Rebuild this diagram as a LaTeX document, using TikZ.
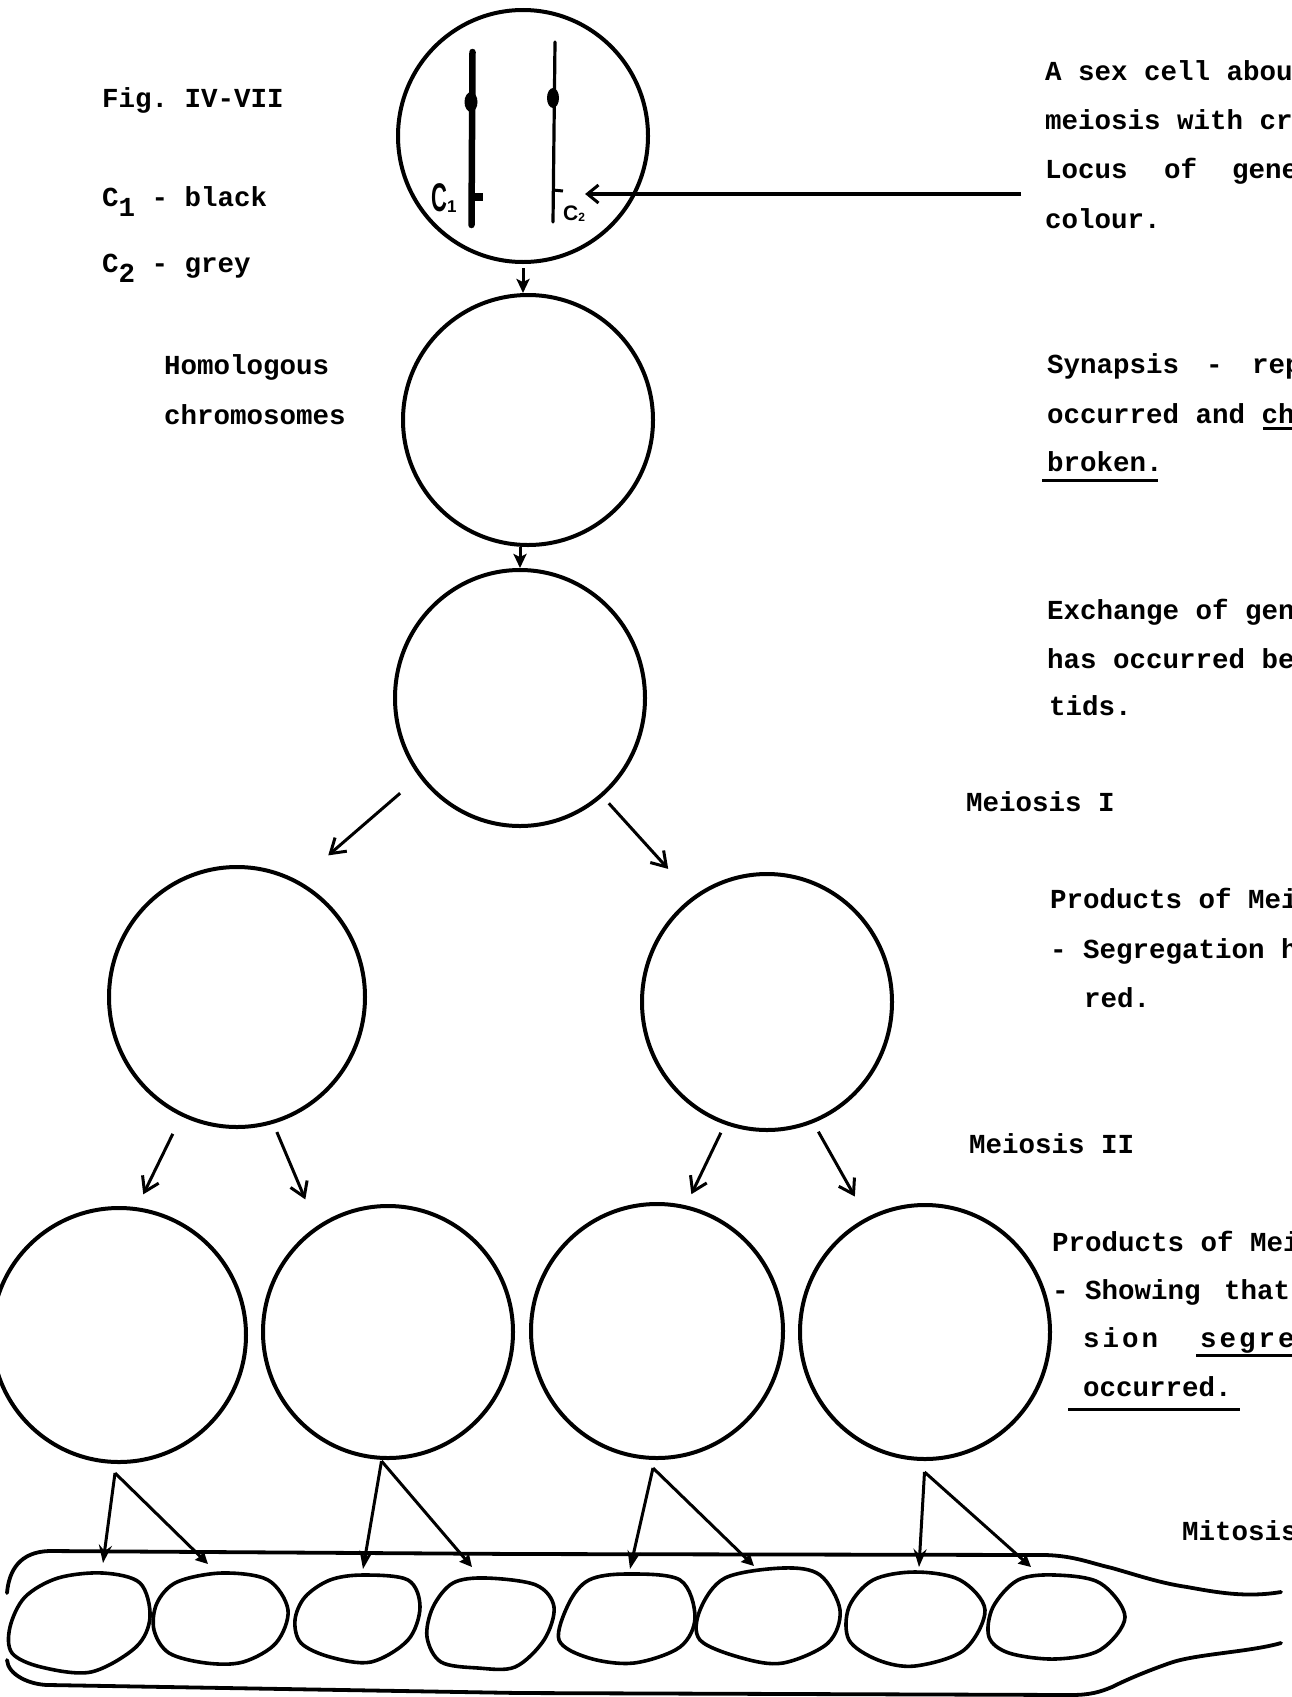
\documentclass[tikz,border=0pt]{standalone}
\usepackage{fontspec}
\setmainfont{Liberation Mono}[BoldFont=Liberation Mono Bold]
\newfontfamily\handfont{Liberation Sans}[BoldFont=Liberation Sans Bold]
\usetikzlibrary{arrows.meta,shapes.geometric}
\frenchspacing
\tikzset{
  x=1pt,y=-1pt,
  cellring/.style={draw,ellipse,line width=4pt,inner sep=0pt},
  link/.style={line width=3pt,-{Straight Barb[length=14pt,width=18pt,line width=3pt]}},
  small link/.style={line width=3pt,-{Stealth[length=14pt,width=13pt,inset=3pt]}},
  pointer/.style={line width=3.8pt,-{Straight Barb[length=11pt,width=18pt,line width=3pt]}},
  leg/.style={line width=3pt,-{Stealth[length=18pt,width=13pt,inset=6pt]}},
  foot/.style={line width=3pt,-{Stealth[length=12pt,width=12pt,inset=1pt]}},
  blob/.style={line width=3.6pt},
  wall/.style={line width=3.8pt,line cap=round},
  note/.style={anchor=base west,inner sep=0pt,font=\fontsize{27.5pt}{27.5pt}\selectfont\bfseries},
  rule/.style={line width=3pt},
}
\begin{document}
\begin{tikzpicture}
\useasboundingbox (0,0) rectangle (1292,1697);
\clip (0,0) rectangle (1292,1697);

% generation rings, top to bottom
\node[cellring,minimum width=250pt,minimum height=252pt] (c1) at (523,136) {};
\node[cellring,minimum width=250pt,minimum height=250pt] (c2) at (528,420) {};
\node[cellring,minimum width=250pt,minimum height=256pt] (c3) at (520,698) {};
\node[cellring,minimum width=256pt,minimum height=260pt] (c4) at (237,997) {};
\node[cellring,minimum width=250pt,minimum height=256pt] (c5) at (767,1002) {};
\node[cellring,minimum width=254pt,minimum height=254pt] (c6) at (119,1335) {};
\node[cellring,minimum width=250pt,minimum height=252pt] (c7) at (388,1332) {};
\node[cellring,minimum width=252pt,minimum height=254pt] (c8) at (657,1331) {};
\node[cellring,minimum width=250pt,minimum height=254pt] (c9) at (925,1332) {};

% chromosomes in the first ring
\draw[line width=6.5pt,line cap=round] (472.5,52) -- (471.5,225);
\draw[line width=3.2pt,line cap=round] (555,42) -- (553,222);
\fill (471,102) ellipse (6.5 and 10);
\fill (553,98) ellipse (6 and 10);
\fill (472,193) rectangle (483,201);
\draw[line width=3pt] (553,190) -- (563,191);
\node[inner sep=0pt,font=\handfont\bfseries] (lab1) at (444,198) {\scalebox{.55}[1]{\fontsize{40pt}{40pt}\selectfont C}\raisebox{-1pt}{\fontsize{17pt}{17pt}\selectfont 1}};
\node[inner sep=0pt,font=\handfont\bfseries\fontsize{21pt}{21pt}\selectfont] (lab2) at (574,214) {C\raisebox{-1pt}{\fontsize{12pt}{12pt}\selectfont 2}};

% connectors between generations
\draw[small link] (c1.south) ++(0,4) -- (c1.south |- c2.north);
\draw[small link] (c3.north |- c2.south) -- (c3.north);
\draw[link,shorten <=25pt,shorten >=39pt] (c3.218) -- (c4.62);
\draw[link,shorten <=9pt,shorten >=37pt] (c3.-50.9) -- (c5.125.6);
\draw[link,shorten <=19.5pt,shorten >=14.4pt] (c4.-115.5) -- (c6.82.4);
\draw[link,shorten <=9pt,shorten >=29pt] (c4.-74) -- (c7.124.2);
\draw[link,shorten <=9pt,shorten >=12.4pt] (c5.-109.8) -- (c8.77.8);
\draw[link,shorten <=10pt,shorten >=24pt] (c5.-69.3) -- (c9.117.2);

% pointer to the locus
\coordinate (locusnote) at (1021,194);
\draw[pointer] (locusnote) -- (lab2.north east |- locusnote);

% the tube of the ascus
\draw[wall] (7,1593) .. controls (9,1570) and (20,1552) .. (49,1551) -- (206,1552) -- (519,1554) -- (1046,1555)
  .. controls (1075,1556) and (1090,1563) .. (1112,1568) .. controls (1140,1576) and (1160,1583) .. (1187,1587)
  .. controls (1215,1592) and (1245,1598) .. (1281,1592);
\draw[wall] (7,1660) .. controls (8,1675) and (30,1685) .. (49,1685) -- (519,1693) -- (1071,1695)
  .. controls (1090,1695) and (1100,1692) .. (1112,1687) .. controls (1130,1678) and (1150,1670) .. (1170,1663)
  .. controls (1195,1654) and (1250,1652) .. (1281,1643);

% eight ascospores
\draw[blob] plot[smooth cycle,tension=.55] coordinates {(103,1573) (140,1583) (150,1617) (136,1647) (91,1672) (41,1667) (12,1653) (10,1627) (25,1597) (58,1578)};
\draw[blob] plot[smooth cycle,tension=.55] coordinates {(222,1573) (268,1580) (288,1610) (276,1643) (243,1662) (206,1663) (169,1653) (154,1630) (157,1603) (177,1582)};
\draw[blob] plot[smooth cycle,tension=.55] coordinates {(363,1575) (408,1580) (420,1607) (408,1640) (371,1662) (330,1657) (301,1643) (295,1620) (305,1597) (330,1580)};
\draw[blob] plot[smooth cycle,tension=.55] coordinates {(486,1578) (536,1585) (554,1607) (544,1640) (515,1667) (478,1668) (441,1662) (427,1637) (433,1607) (453,1583)};
\draw[blob] plot[smooth cycle,tension=.55] coordinates {(626,1574) (680,1580) (695,1617) (680,1647) (634,1663) (589,1658) (559,1640) (569,1603) (589,1580)};
\draw[blob] plot[smooth cycle,tension=.55] coordinates {(783,1568) (820,1575) (840,1610) (828,1643) (783,1663) (742,1658) (700,1640) (700,1610) (725,1578)};
\draw[blob] plot[smooth cycle,tension=.55] coordinates {(915,1572) (960,1580) (985,1610) (964,1650) (915,1666) (878,1660) (849,1640) (849,1607) (873,1580)};
\draw[blob] plot[smooth cycle,tension=.55] coordinates {(1055,1575) (1100,1583) (1125,1617) (1100,1650) (1055,1659) (1009,1653) (989,1637) (993,1607) (1018,1580)};

% division forks into the tube
\coordinate (f1) at (115,1473); \coordinate (f2) at (381.5,1461);
\coordinate (f3) at (653,1468); \coordinate (f4) at (924.5,1472);
\coordinate (s1) at (103,1563); \coordinate (s2) at (208,1564);
\coordinate (s3) at (363,1569); \coordinate (s4) at (472,1567);
\coordinate (s5) at (630,1569); \coordinate (s6) at (754,1566);
\coordinate (s7) at (919,1567); \coordinate (s8) at (1031,1567);
\draw[leg] (f1) -- (s1); \draw[foot] (f1) -- (s2);
\draw[leg] (f2) -- (s3); \draw[foot] (f2) -- (s4);
\draw[leg] (f3) -- (s5); \draw[foot] (f3) -- (s6);
\draw[leg] (f4) -- (s7); \draw[foot] (f4) -- (s8);

% left-hand notes
\node[note] (n1) at (102,107) {Fig. IV-VII};
\node[note] (n2) at (102,206) {C\raisebox{-10pt}{1} - black};
\node[note] (n3) at (102,272) {C\raisebox{-10pt}{2} - grey};
\node[note] (n4) at (164,374) {Homologous};
\node[note] (n5) at (164,424) {chromosomes};

% right-hand notes
\node[note] (r1) at (1045,80) {A sex cell abou};
\node[note] (r2) at (1045,129) {meiosis with cr};
\node[note] (r3) at (1045,178) {Locus};
\node[note] (r3b) at (1164,178) {of};
\node[note] (r3c) at (1232,178) {gene};
\node[note] (r4) at (1045,228) {colour.};
\node[note] (r5) at (1047,373) {Synapsis};
\node[note] (r5b) at (1206,373) {-};
\node[note] (r5c) at (1252,373) {rep};
\node[note] (r6) at (1047,423) {occurred and ch};
\node[note] (r7) at (1047,471) {broken.};
\node[note] (r8) at (1047,619) {Exchange of gen};
\node[note] (r9) at (1047,668) {has occurred be};
\node[note] (r10) at (1049,715) {tids.};
\node[note] (r11) at (966,811) {Meiosis I};
\node[note] (r12) at (1050,908) {Products of Mei};
\node[note] (r13) at (1050,958) {- Segregation h};
\node[note] (r14) at (1084,1007) {red.};
\node[note] (r15) at (969,1153) {Meiosis II};
\node[note] (r16) at (1052,1251) {Products of Mei};
\node[note] (r17) at (1052,1299) {-};
\node[note] (r17b) at (1085,1299) {Showing};
\node[note] (r17c) at (1224,1299) {that};
\node[note] (r18) at (1083,1347) {s\kern3pt i\kern3pt o\kern3pt n};
\node[note] (r18b) at (1200,1347) {s\kern3pt e\kern3pt g\kern3pt r\kern3pt e};
\node[note] (r19) at (1083,1396) {occurred.};
\node[note] (r20) at (1182,1540) {Mitosis};

% emphasis rules
\draw[rule] (r7.base west) ++(-5,9.5) -- ++(116,0);
\draw[rule] (r6.base west) ++(216,5.5) -- ++(40,0);
\draw[rule] (r18b.base west) ++(-4,8) -- ++(100,0);
\draw[rule] (r19.base west) ++(-15,13) -- ++(172,0);
\end{tikzpicture}
\end{document}
